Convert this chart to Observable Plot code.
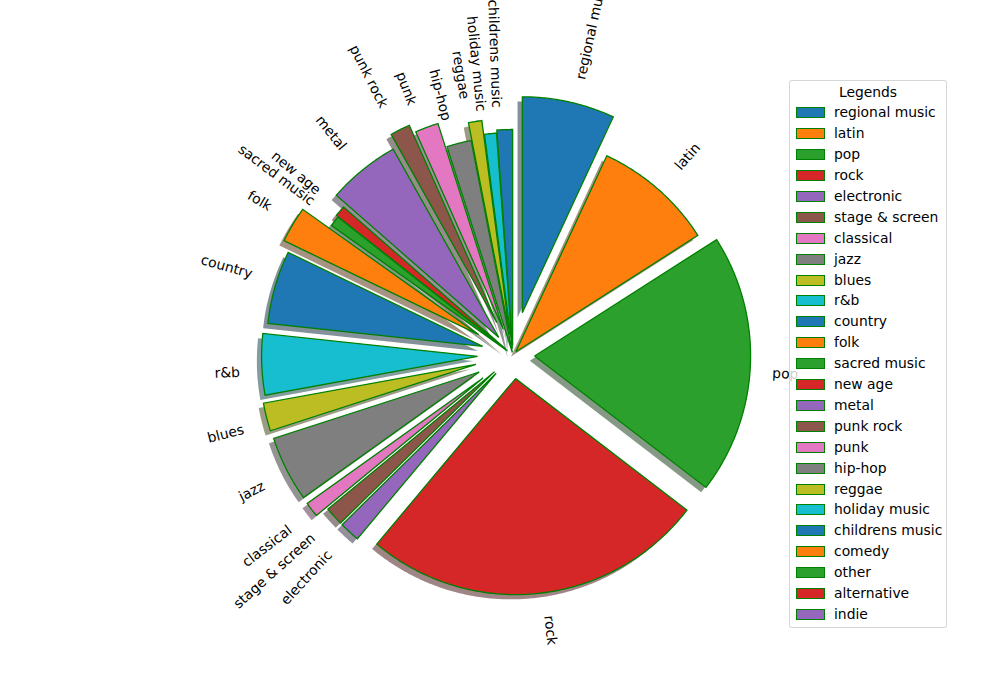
<!DOCTYPE html>
<html>
<head>
<meta charset="utf-8">
<script src="https://cdn.jsdelivr.net/npm/d3@7"></script>
<script src="https://cdn.jsdelivr.net/npm/@observablehq/plot@0.6"></script>
<style>
  body { margin: 0; background: #fff; font-family: "DejaVu Sans", sans-serif; }
  #wrap { position: relative; width: 1000px; height: 700px; overflow: hidden; background: #fff; }
  #wrap svg { position: absolute; left: 0; top: 0; }
  #legend { position: absolute; left: 789px; top: 80px; width: 158px; height: 548px; box-sizing: border-box;
            border: 1px solid rgba(204,204,204,0.8); border-radius: 3px; background: rgba(255,255,255,0.8);
            font-size: 13.89px; color: #000; }
  #legend .title { position: absolute; left: 0; right: 0; text-align: center; line-height: 16px; }
  #legend .item { position: absolute; left: 0; right: 0; height: 16px; line-height: 16px; white-space: nowrap; }
  #legend .sw { position: absolute; left: 6px; top: 3px; width: 27px; height: 9px; border: 1px solid green; box-sizing: content-box; }
  #legend .lb { position: absolute; left: 44px; top: 0; }
</style>
</head>
<body>
<div id="wrap"></div>
<script>
// ---- data ----
const genres = ["regional music","latin","pop","rock","electronic","stage & screen","classical","jazz","blues","r&b","country","folk","sacred music","new age","metal","punk rock","punk","hip-hop","reggae","holiday music","childrens music","comedy","other","alternative","indie"];
const shares = [6.92, 9.03, 19.47, 25.69, 1.53, 1.39, 1.11, 4.89, 2.10, 4.57, 5.47, 2.69, 0.78, 0.81, 5.42, 1.50, 1.75, 1.83, 1.00, 0.89, 1.17, 0, 0, 0, 0];
const explode = [0.2, 0.02, 0.1, 0.11, 0.115, 0.115, 0.175, 0.175, 0.177, 0.164, 0.146, 0.185, 0.032, 0.042, 0.104, 0.167, 0.127, 0.012, 0.095, 0.03, 0.044, 0, 0, 0, 0];
const palette = ["#1f77b4","#ff7f0e","#2ca02c","#d62728","#9467bd","#8c564b","#e377c2","#7f7f7f","#bcbd22","#17becf"];
const legendTitle = "Legends";

// ---- layout ----
const W = 1000, H = 700;
const R = 216;            // pixels per pie radius
const CX = 512.5, CY = 354.5;
const FS = 13.89;
const LH = 14.5;

const rows = genres.map((g, i) => ({genre: g, value: shares[i], explode: explode[i], color: palette[i % 10]}));
const arcs = d3.pie().sort(null).value(d => d.value)(rows);

// shadow: 0.3 * face colour at alpha 0.5 over white
const shade = c => { const r = d3.rgb(c); return d3.rgb(127.5 + r.r * 0.15, 127.5 + r.g * 0.15, 127.5 + r.b * 0.15).formatHex(); };

const wedgePts = [];
const shadowPts = [];
const labels = [];
const ctx = document.createElement("canvas").getContext("2d");
ctx.font = `${FS}px "DejaVu Sans"`;

arcs.forEach((a, i) => {
  const d = a.data;
  if (!(d.value > 0)) return;
  const am = (a.startAngle + a.endAngle) / 2;
  const ex = d.explode * Math.sin(am), ey = d.explode * Math.cos(am);
  const n = Math.max(2, Math.ceil((a.endAngle - a.startAngle) / (Math.PI / 360)));
  const poly = [[ex, ey]];
  for (let k = 0; k <= n; k++) {
    const t = a.startAngle + (a.endAngle - a.startAngle) * k / n;
    poly.push([ex + Math.sin(t), ey + Math.cos(t)]);
  }
  poly.push([ex, ey]);
  poly.forEach(([x, y]) => {
    wedgePts.push({key: d.genre, x, y, color: d.color});
    shadowPts.push({key: d.genre, x: x - 0.022, y: y - 0.022, color: shade(d.color)});
  });
  // label (matplotlib rotatelabels logic)
  const m = Math.PI / 2 - am;
  const dist = d.explode + 1.1;
  const xt = dist * Math.cos(m), yt = dist * Math.sin(m);
  const rot = m * 180 / Math.PI + (xt > 0 ? 0 : 180);
  const w = ctx.measureText(d.genre).width;
  const rr = rot * Math.PI / 180;
  const bw = w * Math.abs(Math.cos(rr)) + LH * Math.abs(Math.sin(rr));
  const bh = w * Math.abs(Math.sin(rr)) + LH * Math.abs(Math.cos(rr));
  const dxp = xt > 0 ? bw / 2 : -bw / 2;
  const dyp = yt > 0 ? bh / 2 : -bh / 2; // upward in data
  labels.push({text: d.genre, x: xt + dxp / R, y: yt + dyp / R, rotate: -rot});
});

const plot = Plot.plot({
  width: W, height: H, margin: 0,
  x: {domain: [-CX / R, (W - CX) / R], range: [0, W], axis: null},
  y: {domain: [(CY - H) / R, CY / R], range: [H, 0], axis: null},
  color: {type: "identity"},
  style: {fontFamily: "DejaVu Sans, sans-serif", background: "#fff"},
  marks: [
    Plot.line(shadowPts, {x: "x", y: "y", z: "key", fill: "color", stroke: "none", curve: "linear"}),
    Plot.line(wedgePts, {x: "x", y: "y", z: "key", fill: "color", stroke: "green", strokeWidth: 1.3, strokeLinejoin: "miter", strokeLinecap: "butt", strokeMiterlimit: 10, curve: "linear"}),
    Plot.text(labels, {x: "x", y: "y", text: "text", rotate: "rotate", textAnchor: "middle", lineAnchor: "middle", fontSize: FS, fill: "#000", fontFamily: "DejaVu Sans"})
  ]
});

const wrap = document.getElementById("wrap");
wrap.appendChild(plot);

// legend
const lg = document.createElement("div");
lg.id = "legend";
const t = document.createElement("div");
t.className = "title"; t.textContent = legendTitle; t.style.top = (11.7 - 8 - 1) + "px";
lg.appendChild(t);
rows.forEach((d, i) => {
  const it = document.createElement("div");
  it.className = "item";
  it.style.top = (32.3 + i * 20.9 - 8 - 1) + "px";
  const sw = document.createElement("div"); sw.className = "sw"; sw.style.background = d.color;
  const lb = document.createElement("div"); lb.className = "lb"; lb.textContent = d.genre;
  it.appendChild(sw); it.appendChild(lb);
  lg.appendChild(it);
});
wrap.appendChild(lg);
</script>
</body>
</html>
